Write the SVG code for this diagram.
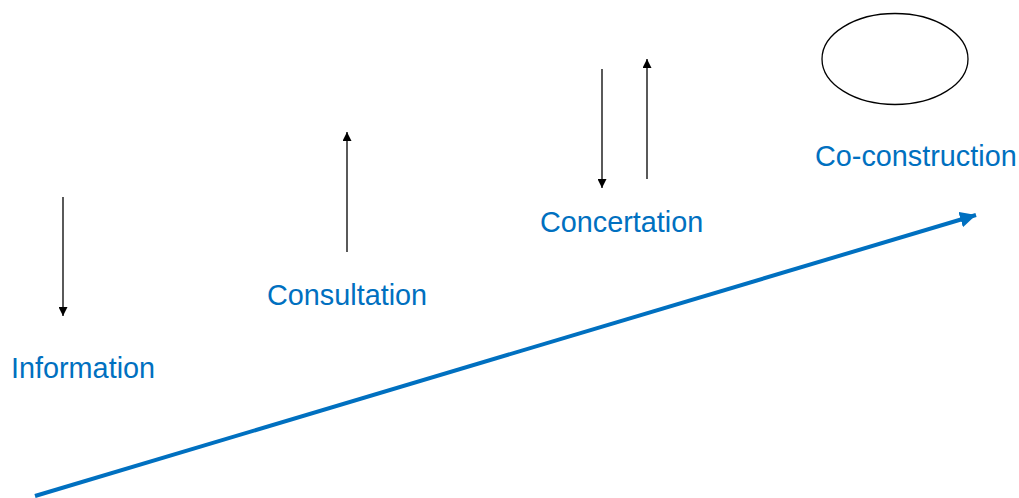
<svg xmlns="http://www.w3.org/2000/svg" width="1019" height="498" viewBox="0 0 1019 498">
<style>
.lbl{font-family:"Liberation Sans",Arial,sans-serif;font-size:28.8px;fill:#0070C0}
.thin{stroke:#000;stroke-width:1.3;fill:none}
</style>
<defs>
<marker id="ah" viewBox="0 0 10 10" refX="10" refY="5" markerWidth="9" markerHeight="9" markerUnits="userSpaceOnUse" orient="auto"><path d="M0,0 L10,5 L0,10 z" fill="#000"/></marker>
<marker id="bh" viewBox="0 0 10 10" refX="10" refY="5" markerWidth="4" markerHeight="4" orient="auto"><path d="M0,0 L10,5 L0,10 z" fill="#0070C0"/></marker>
</defs>
<rect width="1019" height="498" fill="#fff"/>
<g id="connectors">
<line id="progress" x1="35" y1="496" x2="976" y2="215" stroke="#0070C0" stroke-width="4" marker-end="url(#bh)"/>
<line class="thin" x1="63" y1="197" x2="63" y2="316" marker-end="url(#ah)"/>
<line class="thin" x1="347" y1="252" x2="347" y2="132" marker-end="url(#ah)"/>
<line class="thin" x1="602" y1="69" x2="602" y2="188" marker-end="url(#ah)"/>
<line class="thin" x1="647" y1="179" x2="647" y2="59" marker-end="url(#ah)"/>
</g>
<g id="information"><text class="lbl" x="11" y="378">Information</text></g>
<g id="consultation"><text class="lbl" x="267" y="305">Consultation</text></g>
<g id="concertation"><text class="lbl" x="540" y="232">Concertation</text></g>
<g id="coconstruction">
<ellipse cx="895" cy="59" rx="73" ry="45.5" fill="#fff" stroke="#000" stroke-width="1.3"/>
<text class="lbl" x="815" y="166">Co-construction</text>
</g>
</svg>
